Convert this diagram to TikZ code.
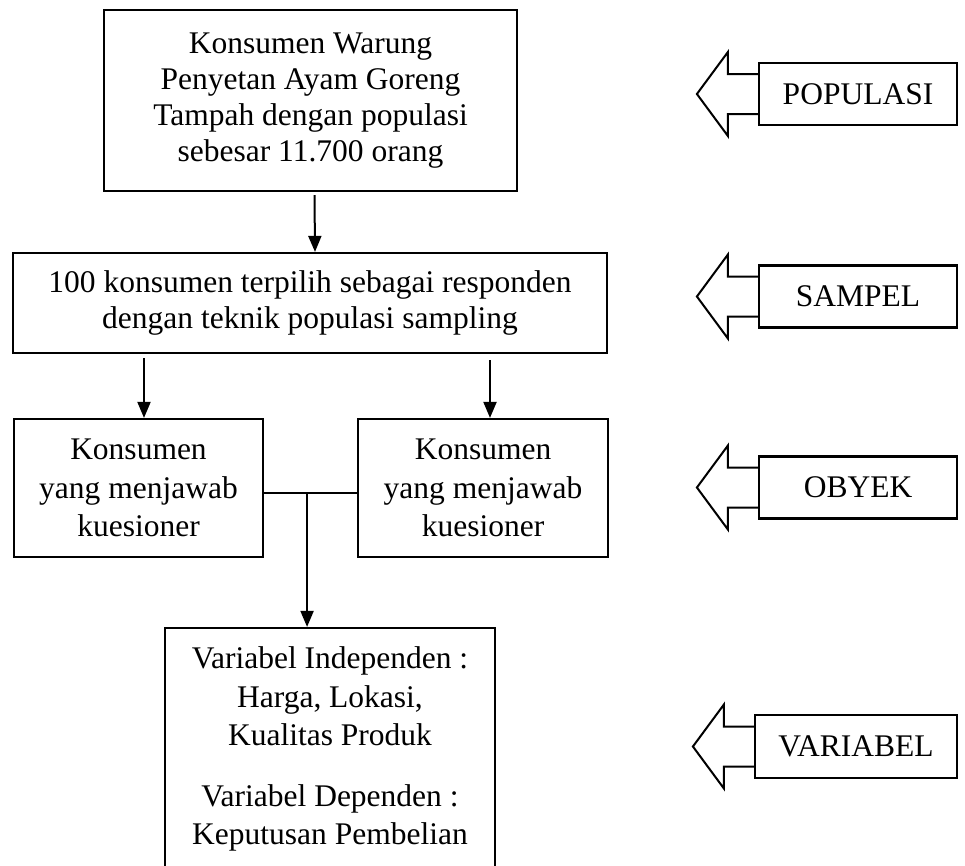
\documentclass[tikz,border=0pt]{standalone}
\usepackage{fontspec}
\setmainfont{Liberation Serif}
\usetikzlibrary{arrows.meta,calc}
\begin{document}
\begin{tikzpicture}[x=1pt,y=-1pt,
  txt/.style={inner sep=0pt,align=center,font=\fontsize{31.5}{36}\selectfont},
  wide/.style={font=\fontsize{31.5}{38.5}\selectfont},
  box/.style={txt,draw,line width=2.2pt},
  tag/.style={box,fill=white,minimum width=198pt,minimum height=62pt},
  arr/.style={line width=2pt,-{Triangle[length=16pt,width=13pt]}},
  link/.style={line width=1.2pt},
  blk/.style={line width=2pt,line join=miter}]
\useasboundingbox (0,0) rectangle (965,865);
% main column
\node[box,minimum width=413pt,minimum height=181pt] (b1) at (310.5,100.5)
  {Konsumen Warung\\Penyetan Ayam Goreng\\Tampah dengan populasi\\sebesar 11.700 orang};
\node[box,minimum width=594pt,minimum height=100pt] (b2) at (310,303)
  {100 konsumen terpilih sebagai responden\\dengan teknik populasi sampling};
\node[box,wide,minimum width=249pt,minimum height=138pt] (b3) at (138.5,488)
  {Konsumen\\yang menjawab\\kuesioner};
\node[box,wide,minimum width=250pt,minimum height=138pt] (b4) at (483,488)
  {Konsumen\\yang menjawab\\kuesioner};
\node[box,minimum width=330pt,minimum height=284pt] (b5) at (330,770) {};
\node[txt,wide] (b5t) at (330,749)
  {Variabel Independen :\\Harga, Lokasi,\\Kualitas Produk\\[22pt]Variabel Dependen :\\Keputusan Pembelian};
% connectors
\draw[arr] ($(b1.south)+(4,3)$) -- ($(b2.north)+(5,0)$);
\draw[arr] ($(b2.south)+(-166,4)$) -- ($(b3.north)+(5.5,0)$);
\draw[arr] ($(b2.south)+(180,6)$) -- ($(b4.north)+(7,0)$);
\draw[link] ($(b3.east)+(0,5)$) -- ($(b4.west)+(0,5)$);
\coordinate (j) at ($($(b3.east)!0.463!(b4.west)$)+(0,5)$);
\draw[arr] (j) -- (j |- b5.north);
% right-hand labels
\node[tag] (pop) at (858,94) {POPULASI};
\node[tag] (sam) at (858,296.5) {SAMPEL};
\node[tag] (oby) at (858,487.5) {OBYEK};
\node[tag,minimum width=202pt,minimum height=63pt] (var) at (856,746.5) {VARIABEL};
\foreach \n in {pop,sam,oby,var}
  \draw[blk] ($(\n.west)+(0,-20)$) -- ++(-30,0) -- ++(0,-22) -- ++(-31,42)
    -- ++(31,42) -- ++(0,-22) -- ++(30,0);
\end{tikzpicture}
\end{document}
